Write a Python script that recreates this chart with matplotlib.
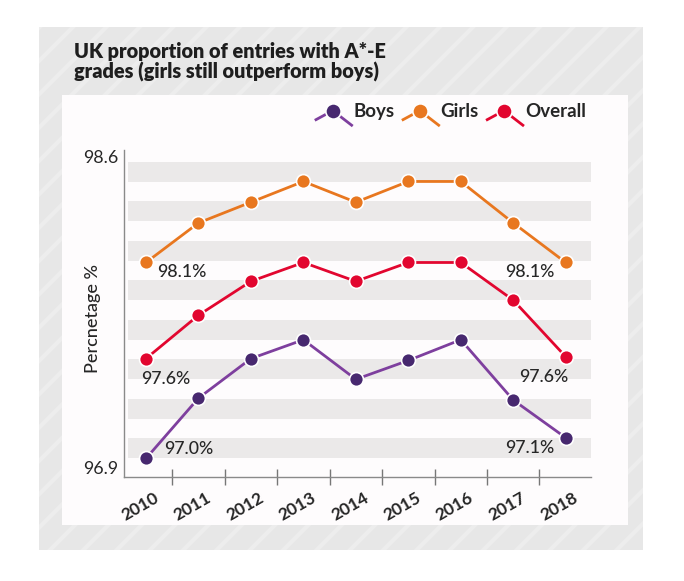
import matplotlib.pyplot as plt
from matplotlib.patches import Rectangle
from matplotlib.lines import Line2D
from matplotlib.legend_handler import HandlerBase
import matplotlib.transforms as mtransforms

plt.rcParams['font.family'] = ['Lato', 'DejaVu Sans']
plt.rcParams['hatch.linewidth'] = 3.0

# Data
years = ['2010', '2011', '2012', '2013', '2014', '2015', '2016', '2017', '2018']
boys = [97.00, 97.32, 97.53, 97.63, 97.42, 97.52, 97.63, 97.31, 97.11]
girls = [98.04, 98.25, 98.36, 98.47, 98.36, 98.47, 98.47, 98.25, 98.04]
overall = [97.53, 97.76, 97.94, 98.04, 97.94, 98.04, 98.04, 97.84, 97.54]
end_labels = {
    'girls': ('98.1%', '98.1%'),
    'overall': ('97.6%', '97.6%'),
    'boys': ('97.0%', '97.1%'),
}

BOYS_LINE = '#7E3F9E'
BOYS_DOT = '#47286F'
GIRLS = '#E8771F'
OVERALL = '#E2062F'
TEXT = '#262626'


class ChevronHandler(HandlerBase):
    # legend icon: line rising to a dot, then falling away
    def create_artists(self, legend, orig_handle, xdescent, ydescent,
                       width, height, fontsize, trans):
        x0 = -xdescent
        yc = height / 2 - ydescent
        xs = [x0, x0 + width * 0.47, x0 + width]
        ys = [yc - 6.5, yc, yc - 10.5]
        line = Line2D(xs, ys, color=orig_handle.get_color(), lw=2.0,
                      transform=trans)
        dot = Line2D([xs[1]], [yc], marker='o', ms=11,
                     color=orig_handle.get_markerfacecolor(),
                     mec='white', mew=1.2, ls='none', transform=trans)
        return [line, dot]


fig = plt.figure(figsize=(6.84, 5.81), dpi=100)

# background panels
fig.patches.append(Rectangle((39 / 684, 1 - 550 / 581), 604 / 684, 523 / 581,
                             transform=fig.transFigure, facecolor='#E7E7E7',
                             edgecolor='none', zorder=-3))
fig.patches.append(Rectangle((39 / 684, 1 - 550 / 581), 604 / 684, 523 / 581,
                             transform=fig.transFigure, facecolor='none',
                             edgecolor='#EDEDED', hatch='/', lw=0, zorder=-2))
fig.patches.append(Rectangle((62 / 684, 1 - 525 / 581), 566 / 684, 430 / 581,
                             transform=fig.transFigure, facecolor='#FEFCFD',
                             edgecolor='none', zorder=-1))

fig.text(74 / 684, 1 - 42 / 581,
         'UK proportion of entries with A*-E\ngrades (girls still outperform boys)',
         fontsize=14.3, fontweight='heavy', color='#1E1E1E', va='top', ha='left',
         linespacing=1.05)

ax = fig.add_axes([124 / 684, 1 - 477.3 / 581, 467 / 684, 327.3 / 581])
ax.set_facecolor('none')
ax.set_zorder(2)

x = list(range(len(years)))

# horizontal grey bands
band_low = 97.0
for i in range(8):
    lo = band_low + 0.2097 * i
    ax.axhspan(lo, lo + 0.106, xmin=0.009, xmax=1, color='#EBE9E9', lw=0, zorder=0)

ax.plot(x, boys, color=BOYS_LINE, lw=2.0, zorder=3, marker='o', ms=10,
        mfc=BOYS_DOT, mec='white', mew=1.2, label='Boys')
ax.plot(x, girls, color=GIRLS, lw=2.0, zorder=3, marker='o', ms=10,
        mfc=GIRLS, mec='white', mew=1.2, label='Girls')
ax.plot(x, overall, color=OVERALL, lw=2.0, zorder=3, marker='o', ms=10,
        mfc=OVERALL, mec='white', mew=1.2, label='Overall')

# end value labels
lab_kw = dict(textcoords='offset points', fontsize=12.8, color=TEXT, va='center',
              fontweight='medium')
ax.annotate(end_labels['girls'][0], (0, girls[0]), xytext=(7.7, -7), ha='left', **lab_kw)
ax.annotate(end_labels['overall'][0], (0, overall[0]), xytext=(-3.8, -14.4), ha='left', **lab_kw)
ax.annotate(end_labels['boys'][0], (0, boys[0]), xytext=(13, 7), ha='left', **lab_kw)
ax.annotate(end_labels['girls'][1], (8, girls[8]), xytext=(-8.4, -7.2), ha='right', **lab_kw)
ax.annotate(end_labels['overall'][1], (8, overall[8]), xytext=(1.9, -14.7), ha='right', **lab_kw)
ax.annotate(end_labels['boys'][1], (8, boys[8]), xytext=(-8.4, -7.6), ha='right', **lab_kw)

ax.set_xlim(-0.419, 8.482)
ax.set_ylim(96.9, 98.637)

# y axis
ax.set_yticks([96.9, 98.6])
ax.set_yticklabels(['96.9', '98.6'])
ax.tick_params(axis='y', length=0, pad=4, labelsize=12.8, labelcolor=TEXT)
ax.get_yticklabels()[0].set_va('bottom')
ax.set_ylabel('Percnetage %', fontsize=13, color=TEXT, fontweight='medium')
ax.yaxis.set_label_coords(-0.049, 0.485)

# x axis: tick marks between years, labels under the points
ax.set_xticks([i + 0.5 for i in x[:-1]])
ax.set_xticklabels([])
ax.tick_params(axis='x', which='major', direction='inout', length=12,
               width=1, color='#777777')
ax.set_xticks(x, minor=True)
ax.set_xticklabels(years, minor=True, rotation=30, fontsize=12.5, color=TEXT,
                   fontweight='bold')
ax.tick_params(axis='x', which='minor', length=0, pad=9)
shift = mtransforms.ScaledTranslation(-6 / 100, 0, fig.dpi_scale_trans)
for lbl in ax.get_xticklabels(minor=True):
    lbl.set_transform(lbl.get_transform() + shift)

for side in ['top', 'right']:
    ax.spines[side].set_visible(False)
for side in ['left', 'bottom']:
    ax.spines[side].set_color('#8A8A8A')
    ax.spines[side].set_linewidth(1.0)

handles, labels = ax.get_legend_handles_labels()
leg = fig.legend(handles, labels, loc='center right',
                 bbox_to_anchor=(595 / 684, 1 - 111.7 / 581), ncol=3, frameon=False,
                 borderpad=0, handlelength=1.9, handletextpad=0.1,
                 columnspacing=0.45, labelcolor=TEXT,
                 prop={'weight': 'bold', 'size': 13.5},
                 handler_map={Line2D: ChevronHandler()})
leg.set_zorder(3)

fig.savefig('out.png', dpi=100)
